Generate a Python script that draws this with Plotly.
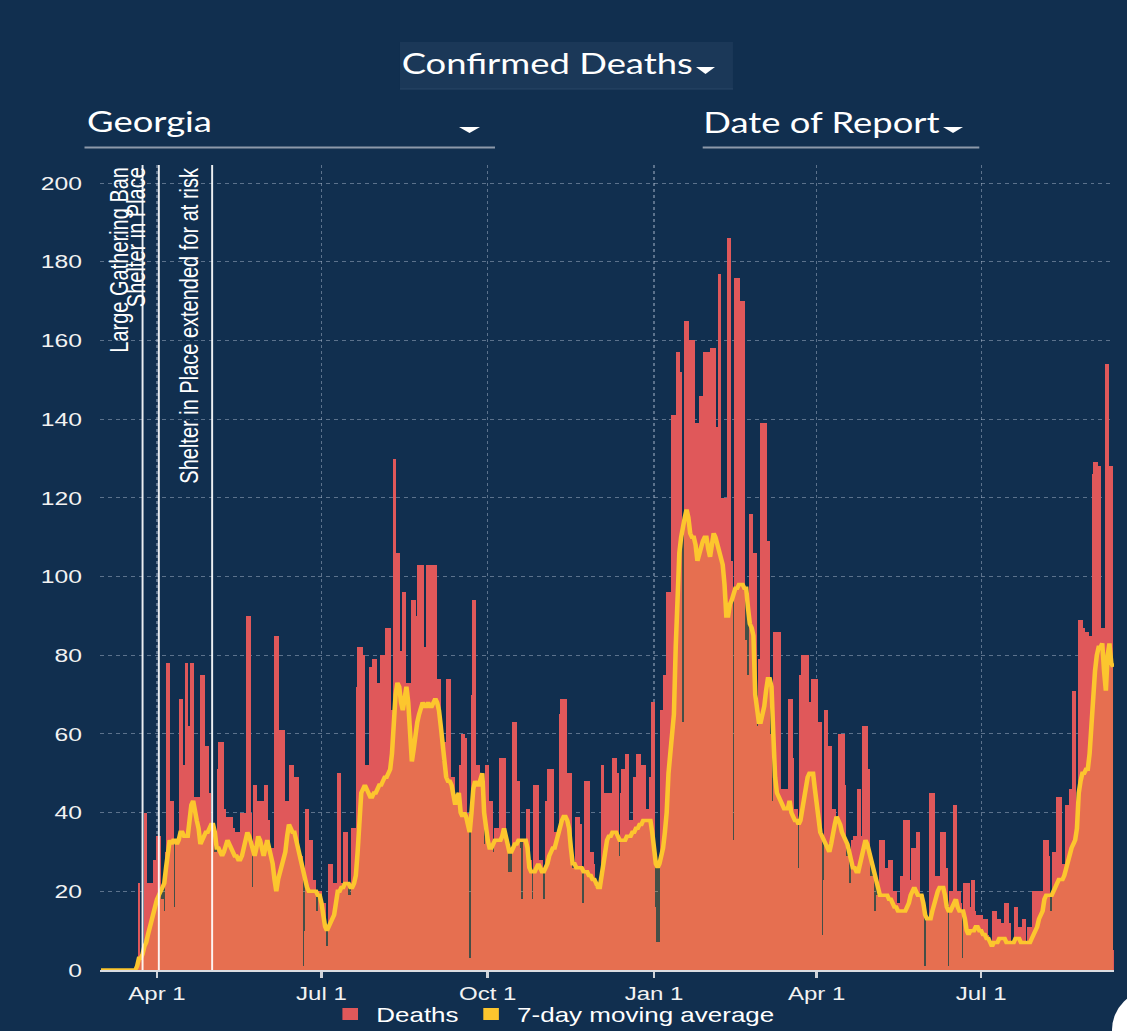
import pandas as pd
import plotly.graph_objects as go

# ---------------- data ----------------
start_date = "2020-03-01"

deaths = [
    0, 0, 0, 0, 0, 0, 0, 0, 0, 0,
    0, 0, 0, 0, 0, 0, 0, 0, 0, 0,
    0, 22, 3, 3, 5, 40, 22, 22, 22, 22,
    28, 34, 34, 34, 18, 15, 30, 78, 78, 43,
    43, 16, 33, 33, 69, 69, 52, 78, 78, 62,
    78, 78, 44, 44, 44, 27, 75, 75, 57, 57,
    45, 36, 36, 26, 30, 51, 58, 58, 41, 41,
    39, 39, 39, 36, 36, 35, 35, 35, 40, 40,
    40, 90, 90, 40, 21, 47, 47, 43, 43, 43,
    43, 47, 47, 38, 31, 31, 12, 85, 85, 61,
    61, 61, 43, 43, 31, 52, 52, 49, 49, 49,
    29, 29, 1, 10, 41, 41, 33, 33, 23, 15,
    15, 20, 20, 17, 17, 6, 27, 27, 27, 22,
    22, 50, 50, 22, 22, 35, 35, 19, 19, 36,
    36, 36, 72, 82, 82, 80, 80, 52, 52, 77,
    77, 79, 79, 73, 73, 80, 80, 80, 87, 87,
    87, 66, 130, 130, 106, 106, 81, 96, 96, 73,
    73, 73, 94, 94, 94, 90, 103, 103, 103, 82,
    82, 103, 103, 103, 103, 103, 74, 74, 58, 53,
    58, 25, 74, 74, 49, 49, 44, 44, 44, 52,
    60, 60, 59, 40, 3, 70, 94, 94, 52, 52,
    50, 50, 32, 52, 52, 43, 43, 30, 36, 36,
    36, 54, 54, 54, 33, 33, 25, 25, 63, 63,
    63, 48, 31, 18, 33, 33, 41, 41, 28, 18,
    47, 47, 47, 28, 28, 18, 43, 43, 51, 51,
    51, 35, 35, 35, 65, 69, 69, 69, 50, 50,
    50, 26, 26, 39, 39, 37, 37, 17, 48, 48,
    48, 30, 30, 27, 21, 21, 21, 52, 52, 45,
    45, 45, 45, 45, 54, 54, 50, 29, 45, 51,
    51, 55, 55, 38, 38, 49, 49, 55, 55, 52,
    52, 52, 41, 41, 49, 68, 68, 16, 7, 7,
    66, 66, 75, 96, 96, 96, 141, 141, 141, 157,
    157, 152, 63, 165, 165, 165, 160, 160, 160, 126,
    139, 139, 146, 146, 157, 157, 157, 44, 158, 158,
    158, 138, 177, 177, 120, 120, 120, 186, 186, 104,
    33, 176, 176, 176, 170, 170, 170, 84, 75, 116,
    116, 106, 106, 62, 79, 79, 139, 139, 139, 109,
    60, 60, 43, 86, 86, 86, 86, 46, 46, 46,
    46, 69, 69, 54, 41, 41, 26, 75, 80, 80,
    80, 80, 68, 37, 74, 74, 74, 63, 63, 9,
    23, 66, 66, 57, 57, 41, 41, 37, 37, 60,
    60, 60, 47, 29, 22, 22, 33, 34, 34, 46,
    46, 34, 62, 62, 62, 51, 24, 24, 15, 15,
    19, 33, 33, 33, 26, 26, 28, 28, 28, 20,
    20, 17, 1, 24, 24, 38, 38, 38, 23, 31,
    31, 31, 35, 35, 19, 19, 1, 13, 13, 45,
    45, 45, 24, 24, 24, 35, 35, 35, 26, 1,
    20, 20, 42, 42, 20, 20, 17, 3, 22, 22,
    22, 16, 23, 23, 15, 14, 14, 14, 13, 13,
    13, 9, 7, 7, 15, 15, 13, 13, 12, 12,
    17, 17, 17, 12, 7, 7, 16, 16, 11, 11,
    13, 13, 7, 11, 11, 11, 20, 20, 20, 20,
    20, 20, 33, 33, 33, 29, 15, 30, 30, 44,
    44, 44, 27, 27, 42, 42, 46, 46, 71, 71,
    37, 89, 89, 89, 87, 86, 86, 0, 85, 126,
    129, 129, 128, 128, 87, 87, 154, 154, 128, 128,
    5,
]

avg7 = [
    0, 0, 0, 0, 0, 0, 0, 0, 0, 0,
    0, 0, 0, 0, 0, 0, 0, 0, 0, 0,
    1, 3, 3, 4, 6, 7, 9, 11, 13, 15,
    17, 18, 19, 20, 21, 22, 26, 31, 33, 32,
    33, 33, 32, 33, 35, 35, 34, 34, 34, 38,
    42, 43, 40, 38, 36, 32, 33, 34, 35, 35,
    36, 37, 37, 35, 31, 31, 30, 29, 30, 32,
    33, 32, 31, 30, 29, 29, 28, 28, 29, 31,
    33, 35, 34, 32, 30, 29, 31, 34, 33, 31,
    29, 31, 33, 31, 29, 27, 23, 20, 23, 25,
    27, 28, 30, 34, 37, 36, 35, 35, 33, 31,
    29, 26, 24, 22, 21, 20, 20, 20, 20, 20,
    19, 19, 17, 13, 11, 10, 11, 12, 13, 14,
    17, 20, 20, 21, 21, 22, 22, 22, 21, 21,
    22, 24, 30, 40, 45, 46, 47, 46, 45, 44,
    44, 45, 45, 46, 47, 47, 48, 49, 49, 50,
    51, 55, 63, 70, 73, 72, 68, 66, 69, 72,
    68, 60, 53, 56, 60, 63, 65, 67, 68, 67,
    67, 68, 67, 67, 68, 69, 68, 66, 62, 58,
    54, 49, 48, 48, 47, 44, 42, 44, 45, 40,
    39, 40, 39, 37, 35, 40, 46, 48, 47, 47,
    49, 50, 40, 35, 33, 31, 31, 32, 33, 33,
    33, 33, 34, 36, 34, 32, 30, 30, 31, 32,
    32, 33, 33, 33, 33, 33, 31, 26, 25, 25,
    25, 26, 27, 26, 25, 25, 26, 27, 29, 30,
    31, 31, 33, 35, 37, 38, 39, 39, 38, 36,
    31, 27, 27, 26, 26, 26, 26, 25, 25, 25,
    24, 24, 23, 23, 22, 21, 21, 24, 28, 31,
    33, 34, 34, 35, 35, 35, 34, 33, 33, 33,
    33, 34, 34, 34, 35, 35, 36, 36, 37, 37,
    38, 38, 38, 38, 38, 35, 31, 27, 26, 27,
    29, 31, 35, 40, 50, 55, 57, 65, 82, 95,
    106, 110, 113, 115, 117, 115, 111, 110, 110, 108,
    104, 106, 108, 109, 110, 110, 107, 105, 108, 111,
    110, 108, 107, 105, 103, 98, 90, 90, 93, 94,
    96, 97, 97, 98, 98, 98, 97, 97, 92, 88,
    87, 85, 70, 65, 63, 63, 65, 67, 71, 74,
    74, 72, 60, 49, 45, 44, 43, 42, 41, 41,
    41, 43, 40, 39, 38, 38, 37, 38, 41, 44,
    47, 49, 50, 50, 50, 46, 42, 37, 35, 34,
    33, 32, 31, 30, 32, 35, 37, 39, 38, 37,
    35, 34, 33, 32, 30, 28, 26, 26, 25, 25,
    27, 29, 31, 33, 32, 30, 28, 26, 24, 23,
    20, 19, 19, 19, 19, 19, 18, 18, 17, 16,
    16, 15, 15, 15, 15, 15, 16, 17, 19, 20,
    21, 20, 19, 19, 19, 17, 14, 13, 13, 13,
    15, 17, 19, 20, 21, 21, 21, 19, 16, 15,
    15, 16, 17, 18, 16, 15, 15, 15, 13, 10,
    9, 10, 10, 10, 11, 11, 10, 10, 9, 9,
    8, 8, 7, 6, 7, 7, 7, 8, 8, 8,
    8, 7, 7, 7, 7, 7, 8, 8, 8, 7,
    7, 7, 7, 7, 7, 8, 9, 10, 11, 13,
    14, 15, 18, 19, 19, 19, 19, 20, 21, 22,
    23, 23, 23, 24, 26, 27, 30, 31, 32, 33,
    36, 45, 48, 50, 50, 51, 51, 55, 62, 70,
    76, 80, 82, 82, 83, 76, 71, 80, 83, 78,
    77,
]

event_dates = ["2020-03-24", "2020-04-02", "2020-05-01 12:00"]
event_labels = ["Large Gathering Ban", "Shelter in Place",
                "Shelter in Place extended for at risk"]

tick_dates = ["2020-04-01", "2020-07-01", "2020-10-01",
              "2021-01-01", "2021-04-01", "2021-07-01"]
tick_labels = ["Apr 1", "Jul 1", "Oct 1", "Jan 1", "Apr 1", "Jul 1"]
y_ticks = [0, 20, 40, 60, 80, 100, 120, 140, 160, 180, 200]

metric_label = "Confirmed Deaths"
state_label = "Georgia"
date_mode_label = "Date of Report"
series_names = ["Deaths", "7-day moving average"]

# ---------------- styling / geometry ----------------
n = min(len(deaths), len(avg7))
dates = pd.date_range(start_date, periods=n, freq="D")

BG = "#112f4f"
RED = "#e0585a"
YEL = "#fcc62e"
GRID = "rgba(185,198,215,0.45)"

W0, H = 867, 1031
S = 1127.0 / W0            # horizontal stretch applied to the page
ML, MR, MT, MB = 77, 10, 165, 61
PW, PH = W0 - ML - MR, H - MT - MB


def px(xr):
    return (xr / S - ML) / PW


def py(yr):
    return (H - MB - yr) / PH


fig = go.Figure()
fig.add_trace(go.Bar(
    x=dates, y=deaths[:n], name=series_names[0],
    marker=dict(color=RED, line=dict(width=0)),
    hoverinfo="x+y",
))
fig.add_trace(go.Scatter(
    x=dates, y=avg7[:n], mode="lines", name=series_names[1],
    line=dict(color=YEL, width=3.5),
    fill="tozeroy", fillcolor="rgba(252,198,46,0.22)",
    showlegend=False,
))
fig.add_trace(go.Bar(
    x=[dates[0]], y=[0], name=series_names[1],
    marker=dict(color=YEL, line=dict(width=0)),
    hoverinfo="skip",
))

shapes = []
annotations = []

for d, lab in zip(event_dates, event_labels):
    shapes.append(dict(type="line", xref="x", yref="paper", x0=d, x1=d,
                       y0=0, y1=1, layer="above",
                       line=dict(color="rgba(255,255,255,0.92)", width=1.5)))
    annotations.append(dict(x=d, xref="x", y=1, yref="paper", text=lab,
                            textangle=-90, xanchor="right", yanchor="top",
                            showarrow=False, xshift=-5,
                            font=dict(size=20, color="white",
                                      family="Arial, Liberation Sans, sans-serif")))

# header controls
shapes.append(dict(type="rect", xref="paper", yref="paper",
                   x0=px(400), x1=px(733), y0=py(89), y1=py(42),
                   fillcolor="#1b3858", line=dict(width=0), layer="below"))
shapes.append(dict(type="line", xref="paper", yref="paper",
                   x0=px(400), x1=px(733), y0=py(89), y1=py(89),
                   line=dict(color="#2a4767", width=1)))
for xl, xr, yt, yb in [(696, 715, 67, 74), (459, 480, 127, 133), (943, 963, 127, 133)]:
    shapes.append(dict(type="path", xref="paper", yref="paper",
                       path="M %f,%f L %f,%f L %f,%f Z" % (px(xl), py(yt), px(xr), py(yt),
                                                          px((xl + xr) / 2), py(yb)),
                       fillcolor="white", line=dict(width=0)))
for xl, xr in [(84.5, 495), (702.7, 979.3)]:
    shapes.append(dict(type="line", xref="paper", yref="paper",
                       x0=px(xl), x1=px(xr), y0=py(147.5), y1=py(147.5),
                       line=dict(color="#8d99aa", width=2)))
# partial round button at the bottom right corner
shapes.append(dict(type="circle", xref="paper", yref="paper",
                   x0=px(1112), x1=px(1192), y0=py(1070), y1=py(990),
                   fillcolor="white", line=dict(width=0)))

for txt, xl, yc in [(metric_label, 399, 62.5), (state_label, 84, 121.5),
                    (date_mode_label, 701, 122)]:
    annotations.append(dict(x=px(xl), y=py(yc), xref="paper", yref="paper",
                            text=txt, xanchor="left", yanchor="middle",
                            showarrow=False,
                            font=dict(family="Lato", size=28, color="white")))

fig.update_layout(
    width=W0, height=H, autosize=False,
    margin=dict(l=ML, r=MR, t=MT, b=MB, pad=0, autoexpand=False),
    paper_bgcolor=BG, plot_bgcolor=BG,
    barmode="overlay", bargap=0,
    font=dict(family="Arial, Liberation Sans, sans-serif", color="#f2f2f2", size=19),
    showlegend=True,
    legend=dict(orientation="h", x=px(553), xanchor="center",
                y=py(1014), yanchor="middle", bgcolor="rgba(0,0,0,0)",
                font=dict(size=20, color="white")),
    xaxis=dict(type="date",
               range=[dates[0] - pd.Timedelta(hours=12), dates[-1] + pd.Timedelta(hours=12)],
               tickmode="array", tickvals=tick_dates, ticktext=tick_labels,
               ticks="outside", ticklen=6, tickwidth=1.5, tickcolor="#cfd3d8",
               automargin=False,
               showline=True, linecolor="#dadde2", linewidth=2,
               showgrid=True, gridcolor=GRID, griddash="dot", gridwidth=1,
               zeroline=False, tickfont=dict(size=18.5, color="#f2f2f2")),
    yaxis=dict(range=[0, 204.6], tickmode="array", tickvals=y_ticks,
               automargin=False,
               showline=False, showgrid=True, gridcolor=GRID, griddash="dot",
               gridwidth=1, zeroline=False, ticks="", ticklabelstandoff=13,
               tickfont=dict(size=19, color="#f2f2f2")),
    shapes=shapes, annotations=annotations,
)

post = ("document.documentElement.style.background='%s';"
        "document.body.style.margin='0';document.body.style.background='%s';"
        "document.body.style.overflow='hidden';"
        "var gd=document.getElementById('{plot_id}');"
        "gd.style.transformOrigin='0 0';gd.style.transform='scaleX(%.5f)';") % (BG, BG, S)

fig.write_html("out.html", post_script=post,
               config={"displayModeBar": False, "responsive": False})
